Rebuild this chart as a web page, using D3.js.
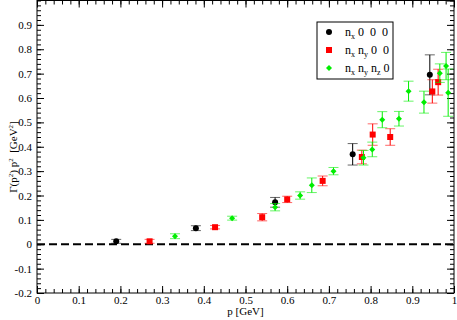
<!DOCTYPE html>
<html>
<head>
<meta charset="utf-8">
<script src="https://cdnjs.cloudflare.com/ajax/libs/d3/7.8.5/d3.min.js"></script>
<style>
  body { margin: 0; background: #fff; }
  svg { display: block; font-family: "Liberation Serif", "DejaVu Serif", serif; }
</style>
</head>
<body>
<div id="chart"></div>
<script>
// series: n_x 0 0 0
const blackP = [0.19, 0.381, 0.571, 0.757, 0.942];
const blackV = [0.012, 0.066, 0.172, 0.369, 0.695];
const blackE = [0.008, 0.01, 0.02, 0.044, 0.082];

// series: n_x n_y 0 0
const redP = [0.27, 0.427, 0.540, 0.600, 0.685, 0.779, 0.805, 0.847, 0.948, 0.962];
const redV = [0.012, 0.07, 0.111, 0.184, 0.26, 0.358, 0.45, 0.44, 0.627, 0.665];
const redE = [0.008, 0.007, 0.015, 0.013, 0.02, 0.028, 0.044, 0.034, 0.048, 0.053];

// series: n_x n_y n_z 0
const greenP = [0.331, 0.468, 0.571, 0.631, 0.659, 0.711, 0.783, 0.804, 0.828, 0.868, 0.891, 0.928, 0.966, 0.981, 0.986];
const greenV = [0.033, 0.107, 0.152, 0.20, 0.242, 0.30, 0.355, 0.389, 0.511, 0.515, 0.628, 0.583, 0.702, 0.731, 0.622];
const greenE = [0.01, 0.008, 0.015, 0.015, 0.03, 0.015, 0.03, 0.03, 0.033, 0.03, 0.041, 0.045, 0.038, 0.056, 0.097];

const xTicks = d3.range(0, 1.0001, 0.1);
const yTicks = d3.range(-0.2, 0.9001, 0.1);

const W = 457, H = 320;
const svg = d3.select("#chart").append("svg")
  .attr("width", W).attr("height", H);

const x = d3.scaleLinear().domain([0, 1]).range([37, 454]);
const y = d3.scaleLinear().domain([-0.2, 1.0]).range([293, 0.5]);

const fmt = d => {
  const v = Math.round(d * 10) / 10;
  return v === 0 ? "0" : String(v);
};

// frame
svg.append("rect")
  .attr("x", x(0)).attr("y", y(1))
  .attr("width", x(1) - x(0)).attr("height", y(-0.2) - y(1))
  .attr("fill", "none").attr("stroke", "#000").attr("stroke-width", 1);

const minorX = d3.range(0, 1.0001, 0.02);
const minorY = d3.range(-0.2, 1.0001, 0.02);

function styleAxis(g) {
  g.select(".domain").remove();
  g.selectAll("line").attr("stroke", "#000");
  g.selectAll("text").attr("font-size", 11).attr("fill", "#000")
    .attr("font-family", "Liberation Serif, serif");
}

// bottom
svg.append("g").attr("transform", `translate(0,${y(-0.2)})`)
  .call(d3.axisBottom(x).tickValues(minorX).tickFormat("").tickSize(-4).tickSizeOuter(0)).call(styleAxis);
svg.append("g").attr("transform", `translate(0,${y(-0.2)})`)
  .call(d3.axisBottom(x).tickValues(xTicks).tickFormat(fmt).tickSize(-7).tickSizeOuter(0).tickPadding(3)).call(styleAxis);
// top
svg.append("g").attr("transform", `translate(0,${y(1)})`)
  .call(d3.axisTop(x).tickValues(minorX).tickFormat("").tickSize(-4).tickSizeOuter(0)).call(styleAxis);
svg.append("g").attr("transform", `translate(0,${y(1)})`)
  .call(d3.axisTop(x).tickValues(xTicks).tickFormat("").tickSize(-7).tickSizeOuter(0)).call(styleAxis);
// left
svg.append("g").attr("transform", `translate(${x(0)},0)`)
  .call(d3.axisLeft(y).tickValues(minorY).tickFormat("").tickSize(-4).tickSizeOuter(0)).call(styleAxis);
svg.append("g").attr("transform", `translate(${x(0)},0)`)
  .call(d3.axisLeft(y).tickValues(yTicks).tickFormat(fmt).tickSize(-7).tickSizeOuter(0).tickPadding(5)).call(styleAxis);
// right
svg.append("g").attr("transform", `translate(${x(1)},0)`)
  .call(d3.axisRight(y).tickValues(minorY).tickFormat("").tickSize(-4).tickSizeOuter(0)).call(styleAxis);
svg.append("g").attr("transform", `translate(${x(1)},0)`)
  .call(d3.axisRight(y).tickValues(yTicks.concat([1.0])).tickFormat("").tickSize(-7).tickSizeOuter(0)).call(styleAxis);

// zero line
svg.append("line")
  .attr("x1", x(0)).attr("x2", x(1))
  .attr("y1", y(0)).attr("y2", y(0))
  .attr("stroke", "#000").attr("stroke-width", 2)
  .attr("stroke-dasharray", "8,4");

// axis titles
svg.append("text")
  .attr("x", x(0.5)).attr("y", 315)
  .attr("text-anchor", "middle").attr("font-size", 11)
  .text("p [GeV]");

const yl = svg.append("text")
  .attr("transform", `translate(17,157) rotate(-90)`)
  .attr("text-anchor", "middle").attr("font-size", 11)
  .style("white-space", "pre");
yl.append("tspan").text("Γ(p");
yl.append("tspan").attr("font-size", 7).attr("dy", -4).text("2");
yl.append("tspan").attr("dy", 4).text(") p");
yl.append("tspan").attr("font-size", 7).attr("dy", -4).text("2");
yl.append("tspan").attr("dy", 4).text("  [GeV");
yl.append("tspan").attr("font-size", 7).attr("dy", -4).text("2");
yl.append("tspan").attr("dy", 4).text("]");

// series
const series = [
  { p: blackP, v: blackV, e: blackE, color: "#000000", shape: "circle" },
  { p: redP, v: redV, e: redE, color: "#ff0000", shape: "square" },
  { p: greenP, v: greenV, e: greenE, color: "#00ee00", shape: "diamond" }
];

function drawMarker(g, shape, color) {
  if (shape === "circle") {
    g.append("circle").attr("r", 3).attr("fill", color);
  } else if (shape === "square") {
    g.append("rect").attr("x", -3).attr("y", -3).attr("width", 6).attr("height", 6).attr("fill", color);
  } else {
    g.append("path").attr("d", "M0,-3L3,0L0,3L-3,0Z").attr("fill", color);
  }
}

series.forEach(s => {
  const pts = s.p.map((p, i) => ({ p, v: s.v[i], e: s.e[i] }));
  const g = svg.append("g");
  const bars = g.selectAll("g.bar").data(pts).join("g").attr("class", "bar");
  bars.append("line")
    .attr("x1", d => x(d.p)).attr("x2", d => x(d.p))
    .attr("y1", d => y(d.v - d.e)).attr("y2", d => y(d.v + d.e))
    .attr("stroke", s.color).attr("stroke-width", 1);
  [-1, 1].forEach(sgn => {
    bars.append("line")
      .attr("x1", d => x(d.p) - 5).attr("x2", d => x(d.p) + 5)
      .attr("y1", d => y(d.v + sgn * d.e)).attr("y2", d => y(d.v + sgn * d.e))
      .attr("stroke", s.color).attr("stroke-width", 1).attr("stroke-opacity", 0.6);
  });
  bars.each(function (d) {
    const m = d3.select(this).append("g").attr("transform", `translate(${x(d.p)},${y(d.v)})`);
    drawMarker(m, s.shape, s.color);
  });
});

// legend
const lg = svg.append("g");
lg.append("rect").attr("x", 317).attr("y", 22).attr("width", 76).attr("height", 57)
  .attr("fill", "#fff").attr("stroke", "#000").attr("stroke-width", 1);
const legendRows = [
  { shape: "circle", color: "#000000", subs: ["x"], tail: " 0  0  0" },
  { shape: "square", color: "#ff0000", subs: ["x", "y"], tail: " 0  0" },
  { shape: "diamond", color: "#00ee00", subs: ["x", "y", "z"], tail: " 0" }
];
legendRows.forEach((r, i) => {
  const cy = 32 + i * 18;
  const m = lg.append("g").attr("transform", `translate(329,${cy})`);
  drawMarker(m, r.shape, r.color);
  const t = lg.append("text").attr("x", 345).attr("y", cy + 4).attr("font-size", 12)
    .style("white-space", "pre");
  r.subs.forEach((s, j) => {
    t.append("tspan").attr("dy", j === 0 ? 0 : -3).text(j === 0 ? "n" : " n");
    t.append("tspan").attr("font-size", 8).attr("dy", 3).text(s);
  });
  t.append("tspan").attr("dy", -3).text(r.tail);
});
</script>
</body>
</html>
